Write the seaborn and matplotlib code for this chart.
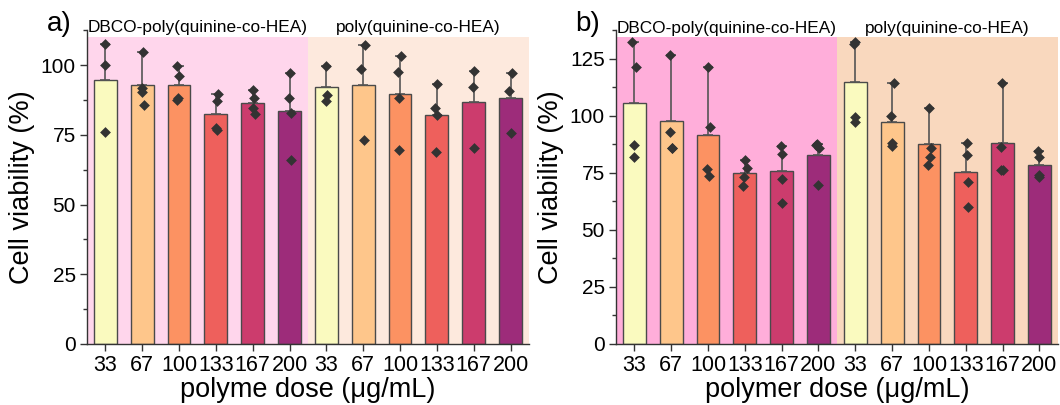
import numpy as np
import pandas as pd
import matplotlib
matplotlib.use('Agg')
import matplotlib.pyplot as plt
import seaborn as sns

# ---- data ----
doses = ['33', '67', '100', '133', '167', '200']
groups = ['DBCO-poly(quinine-co-HEA)', 'poly(quinine-co-HEA)']

# panel a
a_means = [94.6, 93.0, 92.9, 82.6, 86.4, 83.6, 92.0, 92.9, 89.6, 82.2, 86.7, 88.3]
a_err = [13.0, 11.6, 6.9, 6.9, 4.6, 13.5, 7.6, 14.2, 13.7, 11.0, 11.2, 9.0]
a_points = [
    [107.6, 100.0, 76.2],
    [104.6, 91.8, 90.3, 85.7],
    [99.8, 96.0, 88.2, 87.6],
    [89.5, 87.3, 77.5, 76.9],
    [91.0, 88.2, 84.8, 82.4],
    [97.1, 88.2, 82.9, 66.1],
    [99.6, 89.4, 87.1],
    [107.1, 98.6, 73.1],
    [103.3, 97.5, 88.4, 69.7],
    [93.2, 84.8, 82.1, 68.8],
    [97.9, 92.0, 70.3],
    [97.3, 90.6, 75.5],
]

# panel b
b_means = [105.5, 97.8, 91.7, 74.9, 75.9, 82.7, 115.0, 97.2, 87.5, 75.4, 88.0, 78.3]
b_err = [27.0, 28.9, 29.6, 5.6, 10.7, 5.1, 17.5, 17.4, 16.1, 12.9, 26.6, 6.5]
b_points = [
    [132.5, 121.4, 87.3, 81.8],
    [126.7, 93.1, 85.9, 85.9],
    [121.3, 95.3, 76.8, 73.8],
    [80.5, 77.1, 73.2, 69.4],
    [86.6, 83.4, 72.3, 61.8],
    [87.8, 87.2, 85.9, 69.8],
    [132.5, 131.5, 99.7, 97.5],
    [114.6, 100.0, 88.0, 87.0],
    [103.6, 85.7, 81.9, 78.3],
    [88.3, 82.9, 70.8, 60.1],
    [114.6, 86.2, 76.2, 76.2],
    [84.8, 81.9, 74.2, 73.2],
]

# ---- style ----
bar_colors = ['#FAFABF', '#FEC68B', '#FC9262', '#EE605C', '#CC3C6D', '#9D2C7A'] * 2

sns.set_style('ticks', {'text.color': 'black', 'axes.labelcolor': 'black',
                        'xtick.color': 'black', 'ytick.color': 'black'})
plt.rcParams['font.family'] = ['Liberation Sans', 'DejaVu Sans']


def draw_panel(ax, means, err, points, ylim_top, shade_top, shade_colors, xlabel, tag):
    pos = list(range(len(means)))
    ax.set_xlim(-0.5, len(means) - 0.5)
    ax.set_ylim(0, ylim_top)

    # group background shading
    half = len(doses)
    ax.axvspan(-0.5, half - 0.5, ymin=0, ymax=shade_top / ylim_top,
               color=shade_colors[0], zorder=0, lw=0)
    ax.axvspan(half - 0.5, len(means) - 0.5, ymin=0, ymax=shade_top / ylim_top,
               color=shade_colors[1], zorder=0, lw=0)

    sns.barplot(x=pos, y=means, hue=pos, palette=bar_colors, order=pos,
                hue_order=pos, legend=False, width=0.62, edgecolor='#4a4a4a',
                linewidth=1.0, saturation=1, errorbar=None, ax=ax, zorder=2)

    ax.errorbar(pos, means, yerr=[np.zeros(len(err)), err], fmt='none',
                ecolor='#555555', elinewidth=1.2, capsize=3.5, capthick=1.2, zorder=3)

    pts = pd.DataFrame([(i, v) for i, vals in enumerate(points) for v in vals],
                       columns=['pos', 'val'])
    sns.stripplot(data=pts, x='pos', y='val', order=pos, marker='D', color='#333333',
                  size=5.5, jitter=0.06, ax=ax, zorder=4)

    for g, name in enumerate(groups):
        ax.text(g * half + (half - 1) / 2, shade_top + 0.6, name, ha='center',
                va='bottom', fontsize=12.4, clip_on=False)

    ax.set_xticks(pos)
    ax.set_xticklabels(doses * 2, fontsize=15.5)
    ax.tick_params(axis='y', labelsize=15)
    ax.yaxis.set_major_locator(plt.MultipleLocator(25))
    ax.yaxis.set_minor_locator(plt.MultipleLocator(12.5))
    ax.tick_params(which='major', length=5, width=1, direction='out', pad=3,
                   color='#333333')
    ax.tick_params(which='minor', length=3, width=1, direction='out', color='#333333')
    ax.set_xlabel(xlabel, fontsize=19.5, labelpad=1)
    ax.set_ylabel('Cell viability (%)', fontsize=19.5, labelpad=4)
    for s in ['top', 'right']:
        ax.spines[s].set_visible(False)
    for s in ['left', 'bottom']:
        ax.spines[s].set_linewidth(1.0)
        ax.spines[s].set_color('#333333')
    ax.text(-0.035, 1.02, tag, transform=ax.transAxes, fontsize=20,
            ha='right', va='center')


fig = plt.figure(figsize=(10.6, 4.05), dpi=100)
ax1 = fig.add_axes([0.082, 0.151, 0.417, 0.774])
ax2 = fig.add_axes([0.581, 0.151, 0.417, 0.774])

draw_panel(ax1, a_means, a_err, a_points, 112.5, 110.3, ['#FFD6EC', '#FDE9DD'],
           'polyme dose (\u03bcg/mL)', 'a)')
draw_panel(ax2, b_means, b_err, b_points, 137.5, 134.5, ['#FFAEDA', '#F9D8BE'],
           'polymer dose (\u03bcg/mL)', 'b)')

fig.savefig('out.png', dpi=100)
